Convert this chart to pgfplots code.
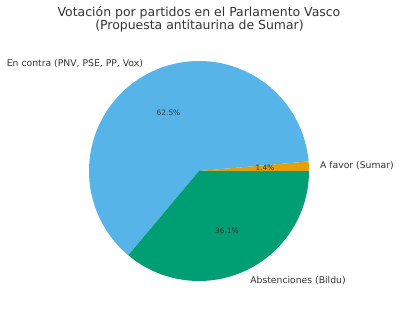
\documentclass[border=0pt]{standalone}
\usepackage{pgfplots}
\pgfplotsset{compat=1.18}
\usepackage{fontspec}
\setmainfont{DejaVu Sans}
\definecolor{cfavor}{HTML}{E69F00}
\definecolor{ccontra}{HTML}{56B4E9}
\definecolor{cabst}{HTML}{009E73}
\definecolor{txt}{HTML}{333333}
% seat counts: A favor, En contra, Abstenciones
\def\vA{1}
\def\vB{45}
\def\vC{26}
\pgfmathsetmacro{\tot}{\vA+\vB+\vC}
\pgfmathsetmacro{\aZero}{0}
\pgfmathsetmacro{\aOne}{360/\tot*\vA}
\pgfmathsetmacro{\aTwo}{360/\tot*(\vA+\vB)}
\pgfmathsetmacro{\aThree}{360}
\begin{document}
\begin{tikzpicture}
\begin{axis}[hide axis, scale only axis, width=400bp, height=314bp,
  xmin=0, xmax=400, ymin=0, ymax=314, clip=false]
\path (rel axis cs:0,0) rectangle (rel axis cs:1,1);
\addplot[draw=none, fill=cfavor, domain=\aZero:\aOne, samples=10]
  ({199+110*cos(x)},{143+110*sin(x)}) -- (axis cs:199,143) -- cycle;
\addplot[draw=none, fill=ccontra, domain=\aOne:\aTwo, samples=150]
  ({199+110*cos(x)},{143+110*sin(x)}) -- (axis cs:199,143) -- cycle;
\addplot[draw=none, fill=cabst, domain=\aTwo:\aThree, samples=100]
  ({199+110*cos(x)},{143+110*sin(x)}) -- (axis cs:199,143) -- cycle;
% title
\node[anchor=base, text=txt, font=\fontsize{12.45bp}{15bp}\selectfont, inner sep=0pt] at (axis cs:199,297.7) {Votación por partidos en el Parlamento Vasco};
\node[anchor=base, text=txt, font=\fontsize{12.45bp}{15bp}\selectfont, inner sep=0pt] at (axis cs:199.5,284) {(Propuesta antitaurina de Sumar)};
% labels
\node[anchor=east, text=txt, font=\fontsize{9.26bp}{11bp}\selectfont, inner sep=0pt] at (axis cs:143.1,250.3) {En contra (PNV, PSE, PP, Vox)};
\node[anchor=west, text=txt, font=\fontsize{9.26bp}{11bp}\selectfont, inner sep=0pt] at (axis cs:319.9,148.3) {A favor (Sumar)};
\node[anchor=west, text=txt, font=\fontsize{9.26bp}{11bp}\selectfont, inner sep=0pt] at (axis cs:250.1,33.3) {Abstenciones (Bildu)};
% percentages
\node[text=txt, font=\fontsize{7.4bp}{9bp}\selectfont, inner sep=0pt] at (axis cs:168.5,201.5) {62.5\%};
\node[text=txt, font=\fontsize{7.4bp}{9bp}\selectfont, inner sep=0pt] at (axis cs:264.9,145.9) {1.4\%};
\node[text=txt, font=\fontsize{7.4bp}{9bp}\selectfont, inner sep=0pt] at (axis cs:226.9,83.2) {36.1\%};
\end{axis}
\end{tikzpicture}
\end{document}
